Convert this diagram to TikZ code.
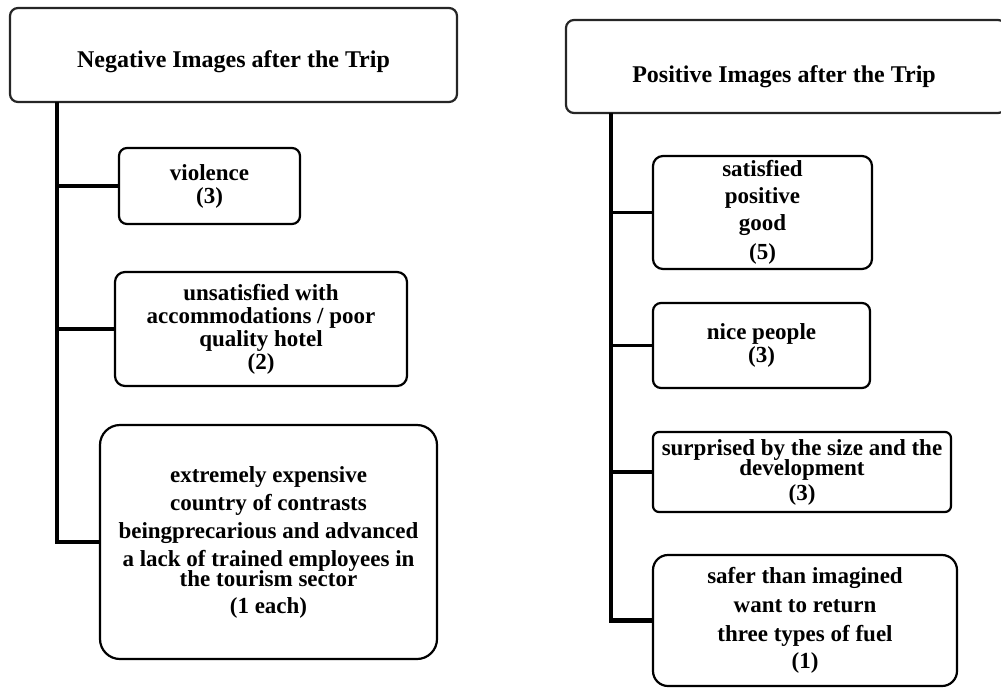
\documentclass[tikz,border=0pt]{standalone}
\usepackage{fontspec}
\setmainfont{Liberation Serif}
\begin{document}
\begin{tikzpicture}[x=0.5pt,y=-0.5pt,
  box/.style={draw=black, line width=1.1pt, align=center, inner sep=0pt,
    font=\fontsize{11.5}{11.5}\selectfont\bfseries},
  sz/.style 2 args={minimum width=#1*0.5pt, minimum height=#2*0.5pt},
  titlebox/.style={draw=black!85, line width=1.1pt, rounded corners=4pt, inner sep=0pt},
  titletext/.style={font=\fontsize{12}{12}\selectfont\bfseries, inner sep=0pt},
  trunk/.style={line width=2.1pt},
  branch/.style={line width=1.7pt}]
\useasboundingbox (0,0) rectangle (1001,687);
% ---------- left ----------
\node[titlebox, sz={447}{94}] (lt) at (233.5,55) {};
\node[titletext] (ltt) at (233.5,62) {Negative Images after the Trip};
\node[box, sz={181}{76}, rounded corners=4pt] (n1) at (209.5,186) {violence\\(3)};
\node[box, sz={292}{114}, rounded corners=5pt] (n2) at (261,329)
  {unsatisfied with\\accommodations / poor\\quality hotel\\(2)};
\node[box, sz={337}{234}, rounded corners=10pt] (n3) at (268.5,542)
  {extremely expensive\\[2.5pt]country of contrasts\\[2.5pt]beingprecarious and advanced\\[2.5pt]a lack of trained employees in\\[-1.5pt]the tourism sector\\[2pt](1 each)};
\coordinate (ltop) at (57,102);
\draw[trunk] (ltop) |- (n3.west);
\draw[branch] (ltop |- n1.west) -- (n1.west);
\draw[branch] (ltop |- n2.west) -- (n2.west);
% ---------- right ----------
\node[titlebox, sz={440}{93}] (rt) at (786,66.5) {};
\node[titletext] (rtt) at (784,77) {Positive Images after the Trip};
\node[box, sz={219}{113}, rounded corners=5pt] (r1) at (762.5,212.5)
  {satisfied\\[2pt]positive\\[2pt]good\\[3pt](5)};
\node[box, sz={217}{85}, rounded corners=4pt] (r2) at (761.5,345.5) {nice people\\(3)};
\node[box, sz={298}{80}, rounded corners=3pt] (r3) at (802,472)
  {surprised by the size and the\\[-1.5pt]development\\[1pt](3)};
\node[box, sz={304}{131}, rounded corners=7.5pt] (r4) at (805,620.5)
  {safer than imagined\\[3pt]want to return\\[3pt]three types of fuel\\[2pt](1)};
\coordinate (rtop) at (611,113);
\draw[trunk] (rtop) |- (r4.west);
\draw[branch] (rtop |- r1.west) -- (r1.west);
\draw[branch] (rtop |- r2.west) -- (r2.west);
\draw[branch] (rtop |- r3.west) -- (r3.west);
\end{tikzpicture}
\end{document}
